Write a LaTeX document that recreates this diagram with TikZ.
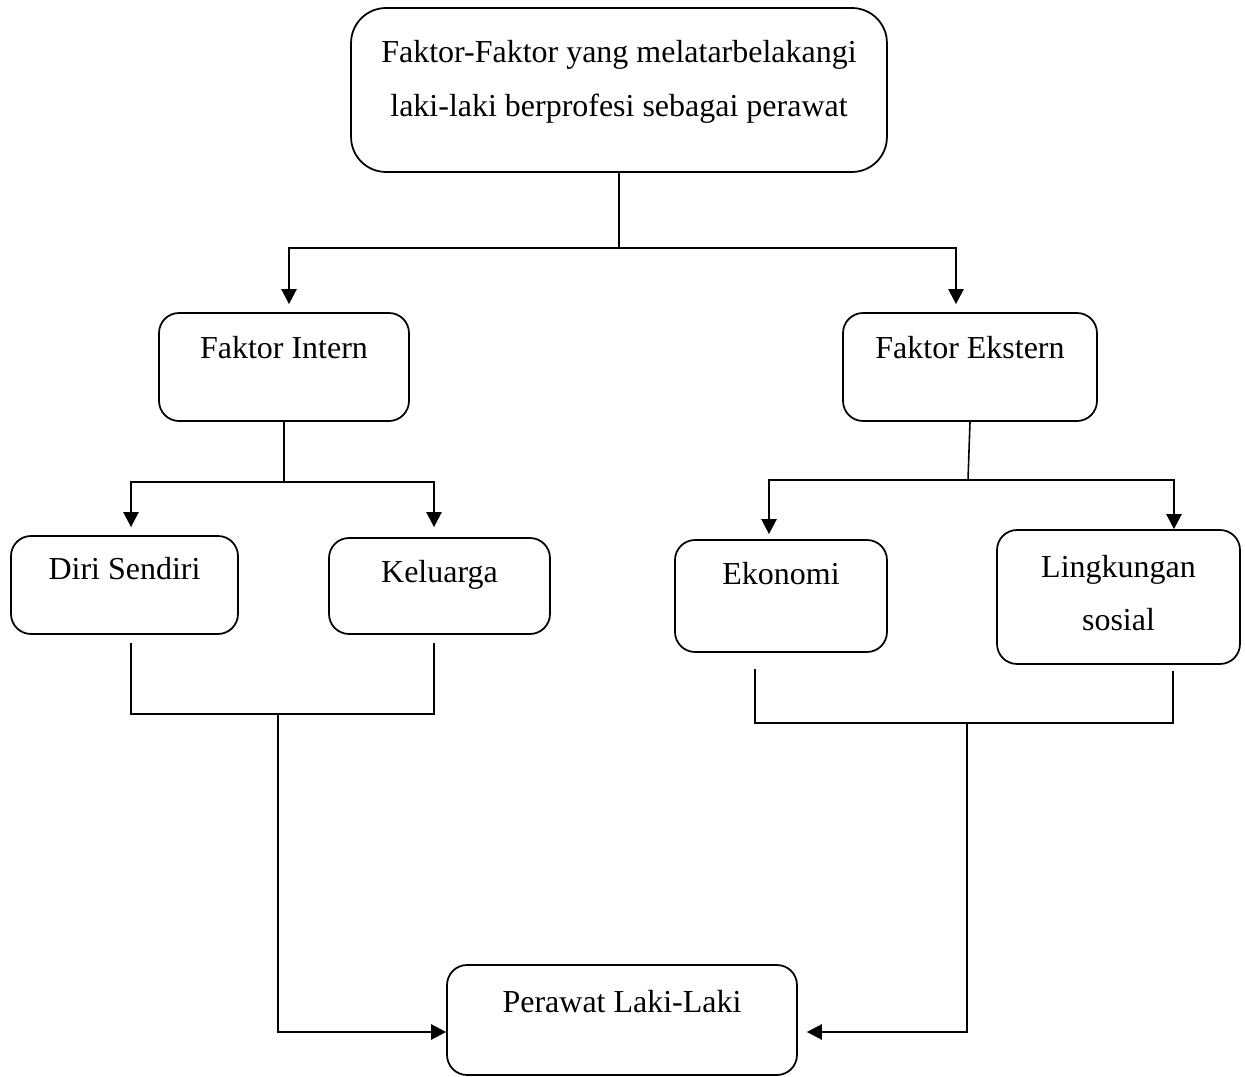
\documentclass[tikz,border=0pt]{standalone}
\usepackage{fontspec}
\setmainfont{Liberation Serif}
\usetikzlibrary{arrows.meta}
\newcommand{\duabaris}[2]{\begin{tabular}[t]{@{}c@{}}#1\\#2\end{tabular}}
\tikzset{
	kotak/.style={draw, line width=1pt, rounded corners=0.4cm, inner sep=0pt, font=\fontsize{18.2}{30.6}\selectfont},
	garis/.style={line width=0.9pt},
	panah/.style={line width=1.4pt, -{Triangle[length=0.3cm,width=0.3cm]}}
}

\begin{document}
\begin{tikzpicture}[x=0.02cm, y=-0.02cm]
	\useasboundingbox (0,0) rectangle (1245,1077);

	% kotak utama
	\node[kotak, rounded corners=0.7cm, minimum width=10.72cm, text height=1.1cm, text depth=2.18cm] (faktor) at (619,90)
		{\duabaris{Faktor-Faktor yang melatarbelakangi}{laki-laki berprofesi sebagai perawat}};

	\node[kotak, minimum width=5cm, text height=0.92cm, text depth=1.24cm] (intern) at (284,367) {Faktor Intern};
	\node[kotak, minimum width=5.08cm, text height=0.92cm, text depth=1.24cm] (ekstern) at (970,367) {Faktor Ekstern};

	\node[kotak, minimum width=4.54cm, text height=0.88cm, text depth=1.08cm] (diri) at (124.5,585) {Diri Sendiri};
	\node[kotak, minimum width=4.42cm, text height=0.9cm, text depth=1.02cm] (keluarga) at (439.5,586) {Keluarga};
	\node[kotak, minimum width=4.24cm, text height=0.88cm, text depth=1.36cm] (ekonomi) at (781,596) {Ekonomi};
	\node[kotak, minimum width=4.86cm, text height=0.94cm, text depth=1.74cm] (lingkungan) at (1118.5,597)
		{\duabaris{Lingkungan}{sosial}};

	\node[kotak, minimum width=7cm, text height=0.94cm, text depth=1.26cm] (perawat) at (622,1020) {Perawat Laki-Laki};

	% cabang atas
	\coordinate (cabang) at (619,248);
	\draw[garis] (faktor.south) -- (cabang);
	\draw[panah, shorten >=0.16cm] (cabang) -| ([xshift=0.1cm]intern.north);
	\draw[panah, shorten >=0.16cm] (cabang) -| ([xshift=-0.28cm]ekstern.north);

	% cabang intern
	\coordinate (cabangIntern) at (284,482);
	\draw[garis] (intern.south) -- (cabangIntern);
	\draw[panah, shorten >=0.16cm] (cabangIntern) -| ([xshift=0.13cm]diri.north);
	\draw[panah, shorten >=0.2cm] (cabangIntern) -| ([xshift=-0.11cm]keluarga.north);

	% cabang ekstern
	\coordinate (cabangEkstern) at (968,480);
	\draw[garis] (ekstern.south) -- (cabangEkstern);
	\draw[panah, shorten >=0.1cm] (cabangEkstern) -| ([xshift=-0.24cm]ekonomi.north);
	\draw[panah] (cabangEkstern) -| ([xshift=1.11cm]lingkungan.north);

	% gabungan ke perawat
	\coordinate (gabungKiri) at (278,714);
	\draw[garis] ([xshift=0.13cm,yshift=-0.16cm]diri.south) |- (gabungKiri) -| ([xshift=-0.11cm,yshift=-0.16cm]keluarga.south);
	\draw[panah] (gabungKiri) |- ([yshift=-0.24cm]perawat.west);

	\coordinate (gabungKanan) at (967,723);
	\draw[garis] ([xshift=-0.52cm,yshift=-0.32cm]ekonomi.south) |- (gabungKanan) -| ([xshift=1.09cm,yshift=-0.12cm]lingkungan.south);
	\draw[panah, shorten >=0.18cm] (gabungKanan) |- ([yshift=-0.24cm]perawat.east);

\end{tikzpicture}
\end{document}
